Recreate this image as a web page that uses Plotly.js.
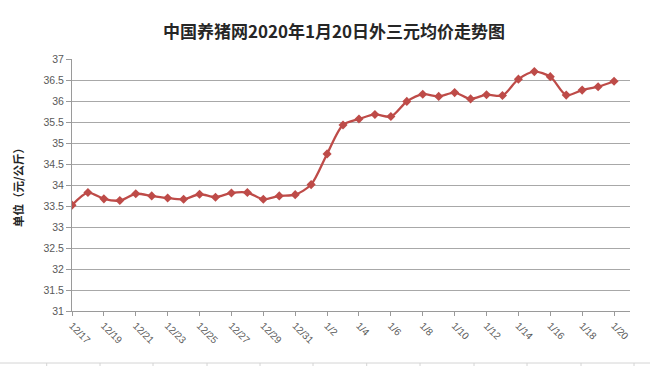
<!DOCTYPE html>
<html>
<head>
<meta charset="utf-8">
<script src="https://cdn.plot.ly/plotly-3.0.1.min.js"></script>
<style>html,body{margin:0;padding:0;background:#fff;}#chart{width:650px;height:366px;}</style>
</head>
<body>
<div id="chart"></div>
<script>
const dates = ["12/17","12/18","12/19","12/20","12/21","12/22","12/23","12/24","12/25","12/26","12/27","12/28","12/29","12/30","12/31",
  "1/1","1/2","1/3","1/4","1/5","1/6","1/7","1/8","1/9","1/10","1/11","1/12","1/13","1/14","1/15","1/16","1/17","1/18","1/19","1/20"];
const prices = [33.52,33.82,33.67,33.63,33.79,33.74,33.69,33.66,33.78,33.71,33.81,33.82,33.66,33.74,33.77,
  34.01,34.74,35.43,35.57,35.68,35.63,35.99,36.16,36.11,36.20,36.05,36.15,36.13,36.52,36.70,36.58,36.14,36.26,36.34,36.47];
const tickDates = dates.filter((d, i) => i % 2 === 0);
const yTicks = [31,31.5,32,32.5,33,33.5,34,34.5,35,35.5,36,36.5,37];
const titleText = "中国养猪网2020年1月20日外三元均价走势图";
const yTitle = "单位（元/公斤）";

const trace = {
  x: dates, y: prices, type: "scatter", mode: "lines+markers",
  line: {color: "#BE4B48", width: 2.3, shape: "spline", smoothing: 0.8},
  marker: {symbol: "diamond", size: 7, color: "#BE4B48"},
  hoverinfo: "x+y"
};

const L = 72, R = 630, T = 59, B = 311;
const px2x = p => (p - L) / (R - L);
const px2y = p => (B - p) / (B - T);
const shapes = [{type: "line", xref: "paper", yref: "paper", x0: px2x(0), x1: px2x(650), y0: px2y(363), y1: px2y(363),
  line: {color: "#d4d4d4", width: 1}}];
[46.7,100,153,207,260,313,366.7,420,474,527,581,634].forEach(p => shapes.push({type: "line", xref: "paper", yref: "paper",
  x0: px2x(p), x1: px2x(p), y0: px2y(363), y1: px2y(366), line: {color: "#d4d4d4", width: 1}}));

const layout = {
  width: 650, height: 366,
  margin: {l: L, r: 650 - R, t: T, b: 366 - B},
  paper_bgcolor: "#ffffff", plot_bgcolor: "#ffffff",
  showlegend: false,
  title: {text: titleText, x: 334 / 650, xanchor: "center", y: 1 - 32 / 366, yanchor: "middle",
    font: {family: "Noto Sans CJK SC", size: 17, color: "#262626", weight: "bold"}},
  xaxis: {
    type: "category", range: [0, 35], tickmode: "array", tickvals: tickDates, ticktext: tickDates,
    tickangle: 45, ticks: "outside", ticklen: 4, tickcolor: "#9a9a9a",
    showline: true, linecolor: "#9a9a9a", linewidth: 1, showgrid: false, zeroline: false,
    tickfont: {family: "Liberation Sans", size: 10, color: "#595959"}
  },
  yaxis: {
    range: [31, 37], tickmode: "array", tickvals: yTicks, ticktext: yTicks.map(String),
    ticks: "outside", ticklen: 5, tickcolor: "#9a9a9a",
    showline: true, linecolor: "#9a9a9a", linewidth: 1,
    showgrid: true, gridcolor: "#a8a8a8", gridwidth: 1, zeroline: false,
    tickfont: {family: "Liberation Sans", size: 10.5, color: "#595959"}
  },
  annotations: [{text: "<b>" + yTitle + "</b>", xref: "paper", yref: "paper", x: px2x(18), y: 0.5,
    textangle: -90, showarrow: false, xanchor: "center", yanchor: "middle",
    font: {family: "Noto Sans CJK SC", size: 11.5, color: "#262626"}}],
  shapes: shapes
};

Plotly.newPlot("chart", [trace], layout, {displayModeBar: false, staticPlot: true});
</script>
</body>
</html>
